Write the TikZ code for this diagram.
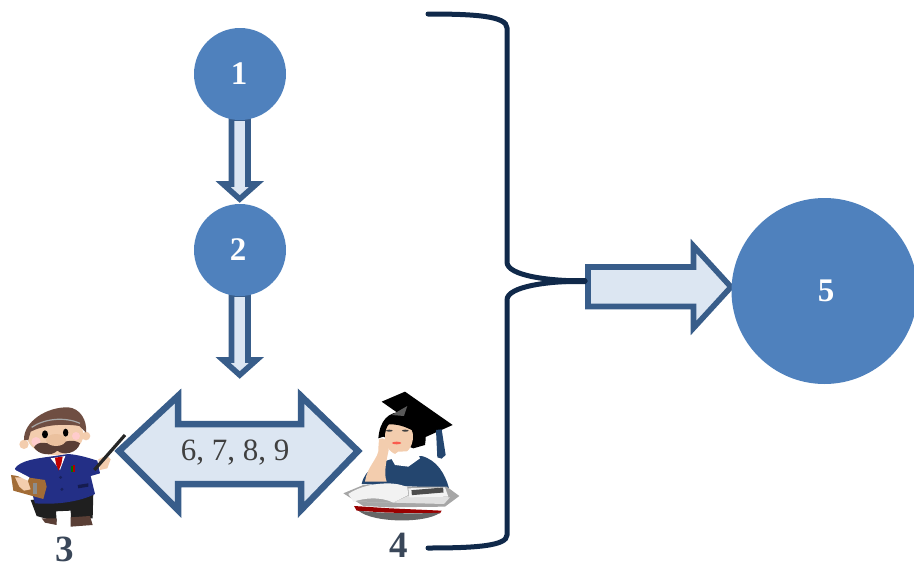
\documentclass[tikz,border=0pt]{standalone}
\usepackage{fontspec}
\setmainfont{Liberation Serif}
\definecolor{discblue}{HTML}{4F81BD}
\definecolor{arrowline}{HTML}{385D8A}
\definecolor{arrowfill}{HTML}{DCE6F2}
\definecolor{bracenavy}{HTML}{10294A}
\definecolor{labelgray}{HTML}{3A4759}
\definecolor{skin}{HTML}{F3CDAE}
\definecolor{jacket}{HTML}{232F86}
\definecolor{robe}{HTML}{24466F}
\definecolor{hairbrown}{HTML}{6F4E42}
\tikzset{
  disc/.style={circle,fill=discblue,draw=none,inner sep=0pt,text=white,font=\bfseries\fontsize{33}{33}\selectfont},
  blockarrow/.style={draw=arrowline,fill=arrowfill,line width=5.6pt,miter limit=10,line join=miter},
  bracestroke/.style={draw=bracenavy,line width=5pt,line cap=round},
  biglabel/.style={text=labelgray,font=\bfseries\fontsize{37}{37}\selectfont,inner sep=0pt},
  artscope/.style={x=0.3333pt,y=-0.3333pt}
}
\begin{document}
\begin{tikzpicture}[x=1pt,y=-1pt]
\useasboundingbox (0,0) rectangle (914,563);
% block arrows
\draw[blockarrow] (231.5,118) -- (248,118) -- (248,184) -- (256.5,184) -- (239.7,199) -- (223,184) -- (231.5,184) -- cycle;
\draw[blockarrow] (231.5,294) -- (248,294) -- (248,360) -- (256.5,360) -- (239.7,375) -- (223,360) -- (231.5,360) -- cycle;
\draw[blockarrow,line width=6.5pt] (119,451) -- (178,396) -- (178,424) -- (301,424) -- (301,396) -- (358,451) -- (301,510) -- (301,484) -- (178,484) -- (178,510) -- cycle;
\draw[blockarrow] (588,267) -- (693.5,267) -- (693.5,246) -- (731,287) -- (693.5,328) -- (693.5,306.5) -- (588,306.5) -- cycle;
% nodes
\node[disc,minimum size=92pt] (n1) at (240,74) {\makebox[0pt]{\hspace{-2pt}1}};
\node[disc,minimum size=92pt] (n2) at (240,250) {\makebox[0pt]{\hspace{-4pt}2}};
\node[disc,minimum size=186pt] (n5) at (824.5,291) {\makebox[0pt]{\hspace{3pt}5}};
\node[text=black!75,font=\fontsize{31}{31}\selectfont,inner sep=0pt] (n6) at (235,453) {6, 7, 8, 9};
\node[biglabel] (n3) at (65,549.5) {3};
\node[biglabel] (n4) at (399,545.5) {4};
% brace
\draw[bracestroke] (428,14) .. controls (475,14) and (507,16) .. (507,28) -- (507,262)
  .. controls (507,276) and (550,281) .. (585,281);
\draw[bracestroke] (585,281) .. controls (550,281) and (507,286) .. (507,300) -- (507,535)
  .. controls (507,546) and (475,548) .. (428,548);
\fill[bracenavy] (530,278) -- (586,278) -- (586,284) -- (530,284) -- (545,281) -- cycle;
% teacher
\begin{scope}[shift={(0,390)},artscope]
  \fill[black!88] (92,330) -- (280,310) -- (278,385) -- (213,385) -- (212,362) -- (168,364) -- (170,395) -- (110,378) -- cycle;
  \fill[hairbrown!80!black] (125,385) -- (170,385) -- (170,405) -- (135,398) -- cycle;
  \fill[hairbrown!80!black] (212,382) -- (270,378) -- (278,405) -- (212,410) -- cycle;
  \fill[jacket] (45,235) .. controls (60,212) and (110,205) .. (150,200) -- (205,192)
     .. controls (240,195) and (270,205) .. (292,212) -- (300,250) -- (272,258) -- (285,312)
     .. controls (240,335) and (170,345) .. (105,340) -- (85,270) -- (50,255) -- cycle;
  \fill[white] (152,205) -- (196,198) -- (180,240) -- cycle;
  \fill[red!75!black] (165,203) -- (188,200) -- (184,222) -- (176,242) -- (168,222) -- cycle;
  \fill[jacket!70!black] (182,262) circle[radius=5] (186,298) circle[radius=5];
  \fill[jacket!60!black] (233,285) -- (265,280) -- (265,290) -- (235,295) -- cycle;
  \fill[green!45!black] (214,228) rectangle (218,246);
  \fill[red!70!black] (220,226) rectangle (224,246);
  \fill[brown!85!black] (33,255) -- (135,270) -- (140,290) -- (130,327) -- (40,302) -- cycle;
  \fill[black!45] (98,280) rectangle (112,312);
  \fill[skin] (45,262) -- (80,262) -- (92,298) -- (72,302) -- (58,290) -- cycle;
  \fill[white] (42,238) -- (88,262) -- (84,272) -- (40,252) -- cycle;
  \fill[skin] (295,208) -- (320,196) -- (332,208) -- (322,235) -- (300,240) -- cycle;
  \draw[black!85,line width=3.2pt] (283,240) -- (375,135);
  \fill[skin] (72,163) circle[radius=14] (258,138) circle[radius=13];
  \fill[skin] (165,135) ellipse[x radius=85,y radius=60];
  \fill[hairbrown] (72,150) .. controls (70,95) and (140,50) .. (205,52)
     .. controls (240,55) and (262,90) .. (258,128) -- (238,108)
     .. controls (190,100) and (130,105) .. (92,125) -- (85,150) -- cycle;
  \draw[black!35,line width=1.2pt] (95,112) .. controls (130,88) and (190,78) .. (240,100);
  \fill[pink!80!red!50] (108,155) circle[radius=14] (228,138) circle[radius=12];
  \fill[black] (135,133) ellipse[x radius=9,y radius=12] (197,128) ellipse[x radius=8,y radius=12];
  \fill[hairbrown!80!black] (170,165) .. controls (140,160) and (115,150) .. (102,172)
     .. controls (115,195) and (155,200) .. (172,182)
     .. controls (190,198) and (232,190) .. (240,160)
     .. controls (220,145) and (190,155) .. (170,165) -- cycle;
  \fill[skin!85!brown] (168,150) ellipse[x radius=30,y radius=18];
\end{scope}
% student
\begin{scope}[shift={(330,380)},artscope]
  \fill[black] (145,175) .. controls (150,120) and (175,95) .. (220,95)
     .. controls (270,100) and (295,150) .. (285,195) -- (250,205) -- (160,170) -- cycle;
  \fill[robe] (95,312) .. controls (105,265) and (150,245) .. (195,235) -- (275,228)
     .. controls (320,240) and (345,280) .. (357,325) -- cycle;
  \fill[skin] (207,170) ellipse[x radius=42,y radius=54];
  \fill[black] (165,135) .. controls (180,100) and (230,100) .. (250,125) -- (255,170) -- (245,150)
     .. controls (215,135) and (190,130) .. (165,135) -- cycle;
  \fill[black] (155,65) -- (225,35) -- (368,135) -- (262,182) -- (250,125) -- (205,100) -- cycle;
  \fill[black!65] (185,105) -- (232,78) -- (222,108) -- cycle;
  \fill[robe] (318,150) -- (335,148) -- (347,225) -- (335,236) -- (322,232) -- cycle;
  \fill[black!75] (178,152) ellipse[x radius=10,y radius=3] (226,152) ellipse[x radius=10,y radius=3];
  \fill[red!55!skin] (200,189) ellipse[x radius=14,y radius=4];
  \fill[white] (182,232) -- (205,215) -- (260,213) -- (270,235) -- (235,260) -- (195,255) -- cycle;
  \fill[skin] (147,178) .. controls (160,170) and (175,178) .. (176,210)
     .. controls (170,240) and (160,280) .. (170,305) -- (105,305)
     .. controls (110,260) and (150,230) .. (145,205) -- cycle;
  \fill[black!35] (40,340) -- (100,315) -- (232,320) -- (350,320) -- (388,348) -- (345,380) -- (180,382) -- (100,378) -- cycle;
  \fill[black!5] (55,342) .. controls (100,310) and (190,300) .. (232,322) -- (235,345)
     -- (190,368) .. controls (150,348) and (100,355) .. (70,365) -- cycle;
  \fill[black!12] (70,365) -- (190,368) -- (342,372) -- (360,352) -- (235,347) -- (190,368) -- cycle;
  \fill[black!5] (235,325) -- (345,322) -- (355,350) -- (238,352) -- cycle;
  \draw[black!70,line width=5pt] (245,338) -- (340,330);
  \fill[red!60!black] (72,378) -- (180,385) -- (335,392) -- (330,400) -- (170,398) -- (80,392) -- cycle;
  \fill[black!60] (85,392) .. controls (150,400) and (260,402) .. (330,398)
     .. controls (290,430) and (130,430) .. (85,392) -- cycle;
\end{scope}
\end{tikzpicture}
\end{document}
